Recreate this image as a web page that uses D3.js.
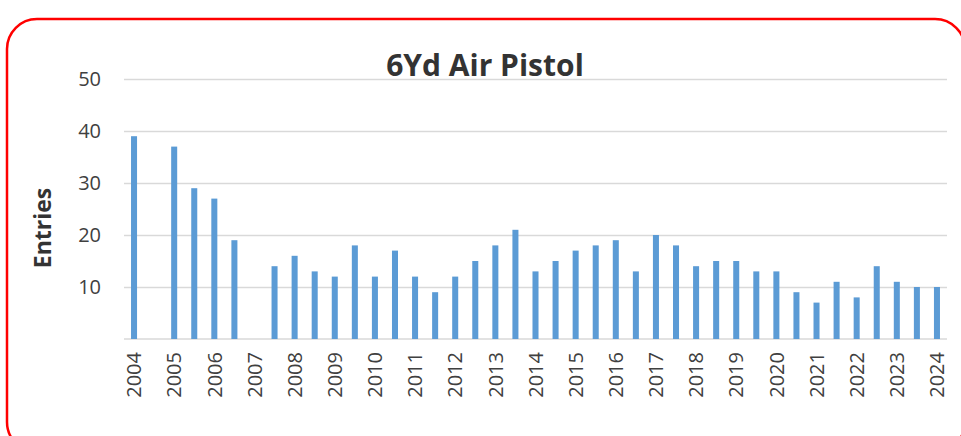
<!DOCTYPE html>
<html>
<head>
<meta charset="utf-8">
<script src="https://cdn.jsdelivr.net/npm/d3@7"></script>
<style>
  body { margin: 0; background: #fff; }
  svg { display: block; font-family: "Open Sans", sans-serif; }
</style>
</head>
<body>
<div id="chart"></div>
<script>
const W = 961, H = 436
const MARGIN = { TOP: 79, BOTTOM: 97, LEFT: 124, RIGHT: 14 }
const WIDTH = W - MARGIN.LEFT - MARGIN.RIGHT
const HEIGHT = H - MARGIN.TOP - MARGIN.BOTTOM

// two competitions a year, label only on the first one
const tickLabels = ["2004", "", "2005", "", "2006", "", "2007", "", "2008", "", "2009", "",
  "2010", "", "2011", "", "2012", "", "2013", "", "2014", "", "2015", "", "2016", "",
  "2017", "", "2018", "", "2019", "", "2020", "", "2021", "", "2022", "", "2023", "", "2024"]
const entries = [39, null, 37, 29, 27, 19, null, 14, 16, 13, 12, 18, 12, 17, 12, 9, 12, 15,
  18, 21, 13, 15, 17, 18, 19, 13, 20, 18, 14, 15, 15, 13, 13, 9, 7, 11, 8, 14, 11, 10, 10]
const yTicks = [10, 20, 30, 40, 50]

const svg = d3.select("#chart").append("svg")
    .attr("width", W)
    .attr("height", H)

// red rounded frame
svg.append("rect")
    .attr("x", 7).attr("y", 19)
    .attr("width", 958).attr("height", 433)
    .attr("rx", 30)
    .attr("fill", "none")
    .attr("stroke", "#ff0000")
    .attr("stroke-width", 2.5)

const g = svg.append("g")
    .attr("transform", `translate(${MARGIN.LEFT}, ${MARGIN.TOP})`)

const x = d3.scaleBand()
    .domain(d3.range(entries.length))
    .range([0, WIDTH])
    .paddingInner(0.7)
    .paddingOuter(0.35)

const y = d3.scaleLinear()
    .domain([0, 50])
    .range([HEIGHT, 0])

// y axis + gridlines
const yAxis = g.append("g")
    .call(d3.axisLeft(y).tickValues(yTicks).tickSize(-WIDTH).tickPadding(23))
yAxis.select(".domain").remove()
yAxis.selectAll(".tick line").attr("stroke", "#d9d9d9").attr("stroke-width", 1.5)
yAxis.selectAll(".tick text")
    .attr("font-size", 20)
    .attr("fill", "#404040")
    .attr("font-family", "Open Sans")

// baseline
g.append("line")
    .attr("x1", 0).attr("x2", WIDTH)
    .attr("y1", y(0)).attr("y2", y(0))
    .attr("stroke", "#d9d9d9")
    .attr("stroke-width", 1.5)

// bars
g.selectAll("rect.bar")
    .data(entries.map((v, i) => ({ i, v })).filter(d => d.v !== null))
    .enter().append("rect")
    .attr("class", "bar")
    .attr("x", d => x(d.i))
    .attr("width", x.bandwidth())
    .attr("y", d => y(d.v))
    .attr("height", d => y(0) - y(d.v))
    .attr("fill", "#5b9bd5")

// x axis
const xAxis = g.append("g")
    .attr("transform", `translate(0, ${HEIGHT})`)
    .call(d3.axisBottom(x).tickSize(0).tickFormat(i => tickLabels[i]))
xAxis.select(".domain").remove()
xAxis.selectAll(".tick text")
    .attr("transform", "rotate(-90)")
    .attr("text-anchor", "end")
    .attr("x", -13)
    .attr("y", 0)
    .attr("dy", "0.36em")
    .attr("font-size", 20)
    .attr("fill", "#404040")
    .attr("font-family", "Open Sans")

// title
svg.append("text")
    .attr("x", 485)
    .attr("y", 76)
    .attr("text-anchor", "middle")
    .attr("font-size", 30)
    .attr("font-weight", "bold")
    .attr("fill", "#333")
    .text("6Yd Air Pistol")

// y label
svg.append("text")
    .attr("transform", "translate(51, 228) rotate(-90)")
    .attr("text-anchor", "middle")
    .attr("font-size", 23)
    .attr("font-weight", "bold")
    .attr("fill", "#333")
    .text("Entries")
</script>
</body>
</html>
